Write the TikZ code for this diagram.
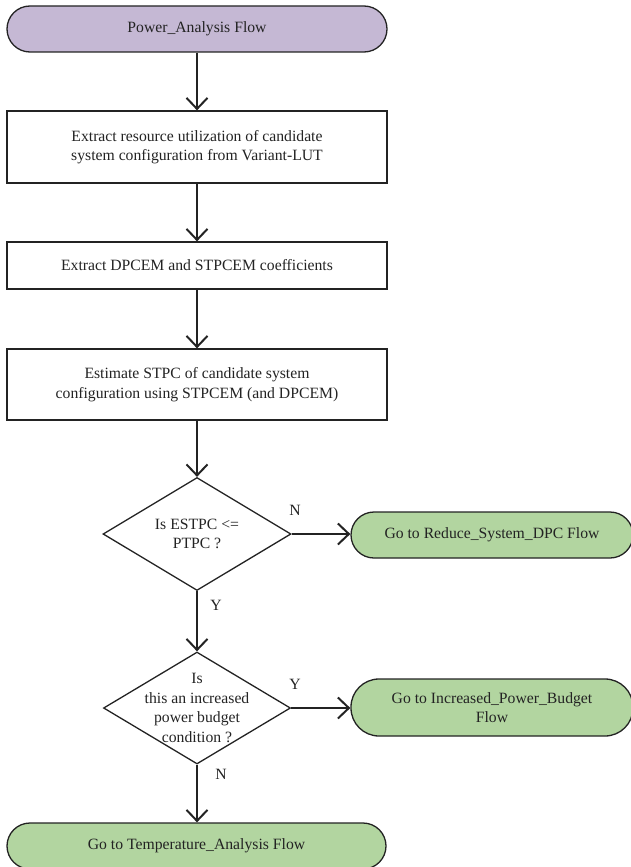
\documentclass[tikz,border=0pt]{standalone}
\usepackage{fontspec}
\setmainfont{Liberation Serif}
\usetikzlibrary{arrows.meta,shapes.geometric}
\definecolor{startfill}{RGB}{197,184,212}
\definecolor{endfill}{RGB}{178,213,160}
\definecolor{ink}{RGB}{35,35,35}
\begin{document}
\begin{tikzpicture}[x=1pt,y=-1pt,
  font=\fontsize{15.7}{19.5}\selectfont,
  every node/.style={text=ink},
  base/.style={draw=ink, line width=1.3pt, align=center, inner sep=0pt},
  terminal/.style={base, rounded corners=23pt, minimum height=46pt},
  procbox/.style={base, minimum width=380pt},
  decision/.style={base, diamond},
  flow/.style={draw=ink, line width=1.1pt, -{Straight Barb[length=11pt,width=21pt,line width=2pt]}},
  tag/.style={inner sep=0pt}
]
\useasboundingbox (0,0) rectangle (630,867);

% main column
\node[terminal, fill=startfill, minimum width=380pt] (start) at (197,29) {Power\_Analysis Flow};
\node[procbox, minimum height=72pt] (b1) at (197,147)
  {Extract resource utilization of candidate\\system configuration from Variant-LUT};
\node[procbox, minimum height=47pt] (b2) at (197,265.5)
  {Extract DPCEM and STPCEM coefficients};
\node[procbox, minimum height=71pt] (b3) at (197,384.5)
  {Estimate STPC of candidate system\\configuration using STPCEM (and DPCEM)};

% first decision
\node[decision, minimum width=188pt, minimum height=113pt] (d1) at (197,534) {};
\node[align=center, inner sep=0pt] (d1t) at (d1) {Is ESTPC <=\\PTPC ?};
\node[terminal, fill=endfill, minimum width=282pt] (r1) at (492,535)
  {Go to Reduce\_System\_DPC Flow};

% second decision
\node[decision, minimum width=187pt, minimum height=112pt] (d2) at (197,708) {};
\node[align=center, inner sep=0pt] (d2t) at (d2)
  {Is\\this an increased\\power budget\\condition ?};
\node[terminal, fill=endfill, minimum width=282pt, minimum height=57pt, rounded corners=28pt] (r2) at (492,707.5)
  {Go to Increased\_Power\_Budget\\Flow};
\node[terminal, fill=endfill, minimum width=379pt] (r3) at (196.5,846)
  {Go to Temperature\_Analysis Flow};

% connectors
\draw[flow] (start.south) -- (b1.north);
\draw[flow] (b1.south) -- (b2.north);
\draw[flow] (b2.south) -- (b3.north);
\draw[flow] (b3.south) -- (d1.north);
\draw[flow] (d1.east) -- (d1.east -| r1.west);
\draw[flow] (d1.south) -- (d2.north);
\draw[flow] (d2.east) -- (d2.east -| r2.west);
\draw[flow] (d2.south) -- (d2.south |- r3.north);

% branch labels
\node[tag] (n1) at (295,510) {N};
\node[tag] (y1) at (216,605) {Y};
\node[tag] (y2) at (295,684) {Y};
\node[tag] (n2) at (221,774) {N};
\end{tikzpicture}
\end{document}
